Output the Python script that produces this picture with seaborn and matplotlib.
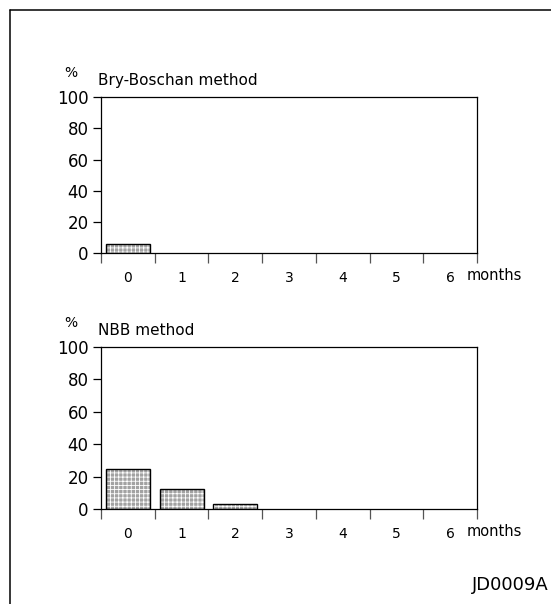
import matplotlib
matplotlib.use("Agg")
import matplotlib.pyplot as plt
from matplotlib.lines import Line2D
import seaborn as sns
import pandas as pd
import numpy as np

months = ["0", "1", "2", "3", "4", "5", "6"]
bry_boschan = [6, 0, 0, 0, 0, 0, 0]
nbb = [25, 12.5, 3.5, 0, 0, 0, 0]
yticks = [0, 20, 40, 60, 80, 100]
titles = ["Bry-Boschan method", "NBB method"]

sns.set_style("ticks")
plt.rcParams["font.family"] = ["DejaVu Sans"]
plt.rcParams["hatch.linewidth"] = 0.6
for k in ["text.color", "xtick.color", "ytick.color", "axes.labelcolor",
          "xtick.labelcolor", "ytick.labelcolor"]:
    plt.rcParams[k] = "black"

W, H = 551, 604
fig = plt.figure(figsize=(W / 100, H / 100), dpi=100)

def fx(px):
    return px / W

def fy(py):
    return 1 - py / H

panels = [
    (bry_boschan, titles[0], 97, 253.3),
    (nbb, titles[1], 346.7, 509.3),
]

for vals, title, top, bottom in panels:
    ax = fig.add_axes([fx(101), fy(bottom), fx(477) - fx(101), fy(top) - fy(bottom)])
    df = pd.DataFrame({"month": months, "pct": vals})
    shown = df.copy()
    shown.loc[shown["pct"] == 0, "pct"] = np.nan
    sns.barplot(data=shown, x="month", y="pct", order=months, ax=ax, color="#a2a2a2",
                width=0.82, hatch="++++", edgecolor="white", linewidth=0,
                saturation=1)
    sns.barplot(data=shown, x="month", y="pct", order=months, ax=ax, fill=False,
                width=0.82, edgecolor="black", linewidth=1.0, color="black")
    ax.set_xlim(-0.5, 6.5)
    ax.set_ylim(0, 100)
    ax.set_yticks(yticks)
    ax.set_yticklabels([str(v) for v in yticks], fontsize=12)
    ax.tick_params(axis="y", direction="out", length=6, width=0.9, pad=3, color="black")
    ax.set_xticks(range(len(months)))
    ax.set_xticklabels(months, fontsize=10)
    ax.tick_params(axis="x", which="major", length=0, pad=13)
    ax.set_xticks([i - 0.5 for i in range(len(months) + 1)], minor=True)
    ax.tick_params(axis="x", which="minor", direction="out", length=7, width=0.9, color="#555555")
    ax.set_xlabel("")
    ax.set_ylabel("")
    for s in ax.spines.values():
        s.set_visible(True)
        s.set_linewidth(0.9)
        s.set_color("black")
    fig.text(fx(467), fy(bottom + 22), "months", fontsize=10.5, ha="left", va="center")
    fig.text(fx(98), fy(top - 9), title, fontsize=11, ha="left", va="bottom")
    fig.text(fx(64), fy(top - 17), "%", fontsize=10, ha="left", va="bottom")

fig.text(fx(472), fy(590), "JD0009A", fontsize=13, ha="left", va="baseline")

fig.add_artist(Line2D([fx(10), fx(10)], [0, fy(10)], color="black", linewidth=1.1))
fig.add_artist(Line2D([fx(10), 1], [fy(10), fy(10)], color="black", linewidth=1.1))

fig.savefig("out.png", dpi=100)
